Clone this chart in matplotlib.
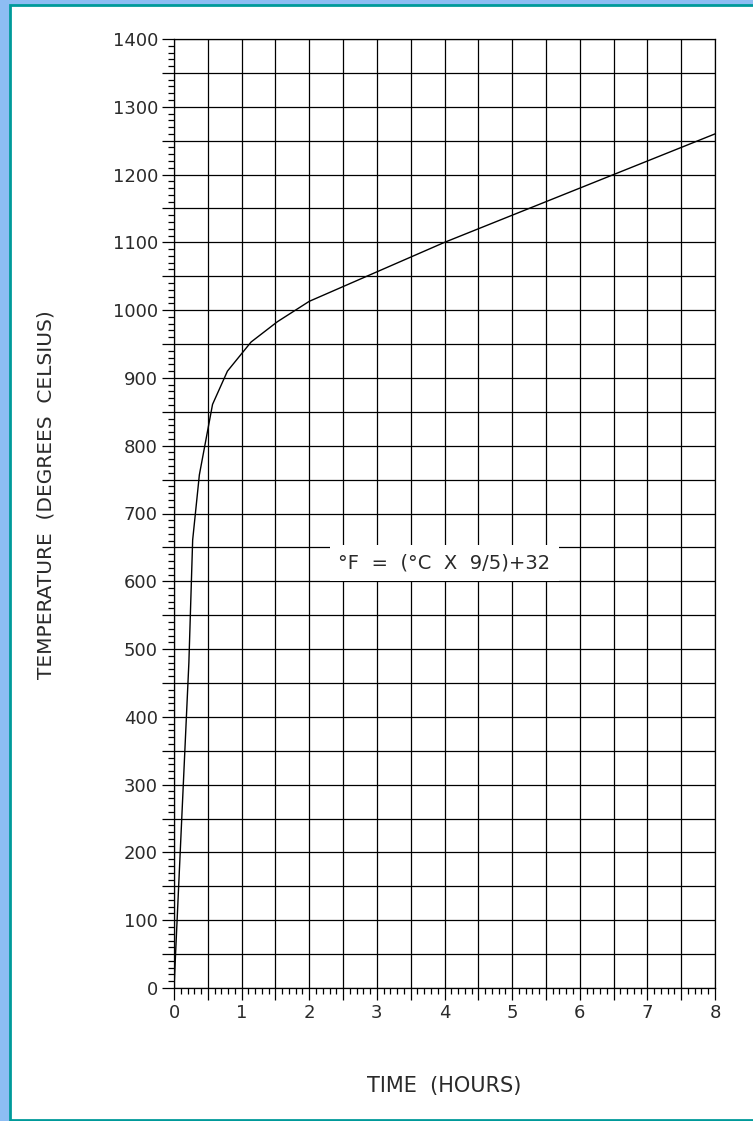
"""Standard fire curve: furnace temperature vs. exposure time."""
import matplotlib
matplotlib.use("Agg")
import matplotlib.pyplot as plt
from matplotlib.patches import Rectangle
from matplotlib.ticker import MultipleLocator, FuncFormatter

# curve (hours, deg C)
hours = [0, 0.22, 0.276, 0.375, 0.57, 0.79, 1.14, 1.53, 2.0, 4.0, 8.0]
temps_c = [0, 480, 661, 757, 861, 910, 953, 983, 1013, 1100, 1260]

x_label = "TIME  (HOURS)"
y_label = "TEMPERATURE  (DEGREES  CELSIUS)"
note = "°F  =  (°C  X  9/5)+32"
note_at = (4.0, 627)

W, H = 753, 1121
TXT = "#2a2a2a"

fig = plt.figure(figsize=(W / 100, H / 100), dpi=100)
fig.patch.set_facecolor("#8dbdf3")
fig.add_artist(Rectangle((10 / W, 1.5 / H), 1.0, (1116 - 1.5) / H,
                         transform=fig.transFigure, facecolor="white",
                         edgecolor="#009a9a", lw=2.0, zorder=0))

ax = fig.add_axes([174 / W, 1 - 988 / H, (715 - 174) / W, (988 - 39) / H])
ax.plot(hours, temps_c, color="black", lw=1.0, zorder=4)
ax.set_xlim(0, 8)
ax.set_ylim(0, 1400)

ax.xaxis.set_major_locator(MultipleLocator(0.5))
ax.xaxis.set_minor_locator(MultipleLocator(0.1))
ax.yaxis.set_major_locator(MultipleLocator(50))
ax.yaxis.set_minor_locator(MultipleLocator(10))
ax.xaxis.set_major_formatter(FuncFormatter(lambda v, _: f"{v:g}" if v % 1 == 0 else ""))
ax.yaxis.set_major_formatter(FuncFormatter(lambda v, _: f"{v:g}" if v % 100 == 0 else ""))

ax.grid(which="major", color="black", lw=0.9)
ax.tick_params(which="major", direction="out", length=8.6, width=0.9,
               labelsize=13, labelcolor=TXT, pad=3)
ax.tick_params(which="minor", direction="out", length=4.6, width=0.9)
for s in ax.spines.values():
    s.set_linewidth(0.9)

ax.text(*note_at, note, ha="center", va="center", fontsize=14, color=TXT,
        zorder=5,
        bbox=dict(facecolor="white", edgecolor="none", boxstyle="square,pad=0.45"))

fig.text(444.5 / W, 1 - 1086 / H, x_label, ha="center", va="center",
         fontsize=15, color=TXT)
fig.text(46 / W, 1 - 495 / H, y_label, ha="center", va="center", rotation=90,
         fontsize=14.5, color=TXT)

fig.savefig("out.png", dpi=100, facecolor=fig.get_facecolor())
